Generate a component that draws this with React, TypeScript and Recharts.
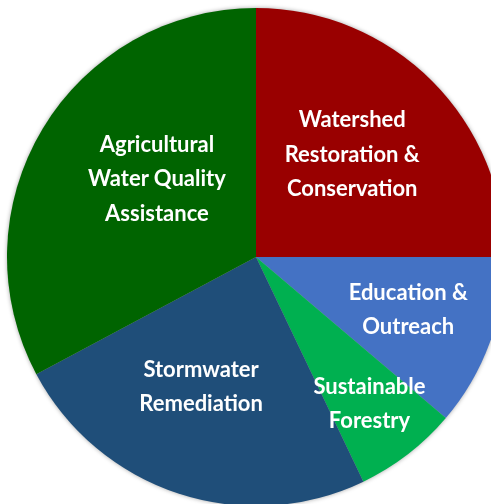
import { Cell, Pie, PieChart } from "recharts";

// shares of the program budget, read clockwise from 12 o'clock
const programs = [
  "Watershed Restoration & Conservation",
  "Education & Outreach",
  "Sustainable Forestry",
  "Stormwater Remediation",
  "Agricultural Water Quality Assistance",
];
const shares = [25.0, 11.2, 6.7, 24.3, 32.8];
const labelLines = [
  ["Watershed", "Restoration &", "Conservation"],
  ["Education &", "Outreach"],
  ["Sustainable", "Forestry"],
  ["Stormwater", "Remediation"],
  ["Agricultural", "Water Quality", "Assistance"],
];

const COLORS = ["#990000", "#4472C4", "#00B050", "#1F4E79", "#006400"];
// where each label sits: fraction of the radius, and a nudge off the mid angle
const LABEL_RADIUS = [0.57, 0.645, 0.74, 0.56, 0.51];
const LABEL_NUDGE = [2.3, 1.6, 0.4, -5, -7.8];

const data = programs.map((name, i) => ({ name, value: shares[i] }));

const RAD = Math.PI / 180;

function renderLabel(props: any) {
  const { cx, cy, midAngle, outerRadius, index } = props;
  const r = outerRadius * LABEL_RADIUS[index];
  const a = (midAngle + LABEL_NUDGE[index]) * RAD;
  const x = cx + r * Math.cos(a);
  const y = cy - r * Math.sin(a);
  const lines = labelLines[index];
  const lh = 34.5;
  const top = y - ((lines.length - 1) * lh) / 2;
  return (
    <text
      x={x}
      y={top}
      fill="#ffffff"
      textAnchor="middle"
      dominantBaseline="central"
      style={{ fontFamily: "Lato, 'Open Sans', sans-serif", fontWeight: 700, fontSize: 22 }}
    >
      {lines.map((t, k) => (
        <tspan key={k} x={x} y={top + k * lh}>
          {t}
        </tspan>
      ))}
    </text>
  );
}

export default function App() {
  return (
    <div
      style={{
        position: "fixed",
        top: 0,
        left: 0,
        width: 491,
        height: 504,
        overflow: "hidden",
        background: "#fff",
      }}
    >
      <div style={{ filter: "drop-shadow(0px 0px 2px rgba(0,0,0,0.35))" }}>
        <PieChart width={491} height={504} margin={{ top: 0, right: 0, bottom: 0, left: 0 }}>
          <Pie
            data={data}
            dataKey="value"
            nameKey="name"
            cx={256}
            cy={257}
            outerRadius={249}
            startAngle={90}
            endAngle={-270}
            stroke="none"
            labelLine={false}
            label={renderLabel}
            isAnimationActive={false}
          >
            {data.map((d, i) => (
              <Cell key={d.name} fill={COLORS[i]} />
            ))}
          </Pie>
        </PieChart>
      </div>
    </div>
  );
}
